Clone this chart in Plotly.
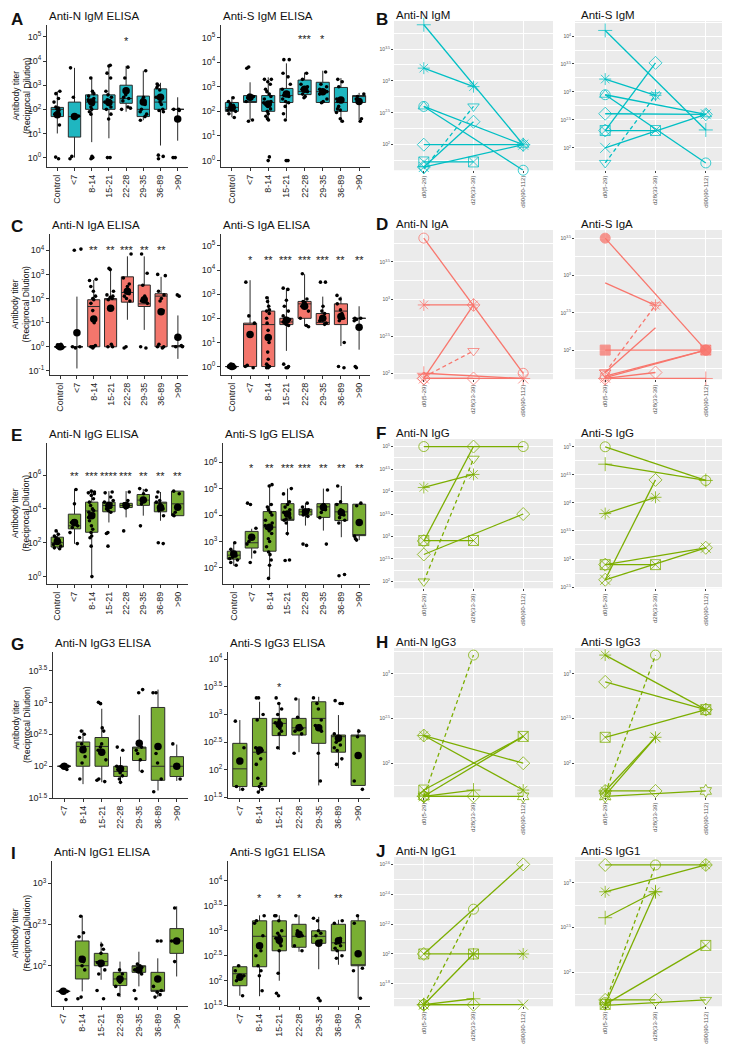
import plotly.graph_objects as go

W, H = 730, 1044
FONT = "Liberation Sans, Arial, sans-serif"

CATS8 = ["Control", "<7", "8-14", "15-21", "22-28", "29-35", "36-89", ">90"]
CATS7 = CATS8[1:]
TIMES = ["d0(5-29)", "d28(33-39)", "d90(90-112)"]

# ---------------- box-plot panels: log10 titers ----------------
# stats rows per category: (lower whisker, q1, median, q3, upper whisker, mean)
AN_IGM_STATS = [(1.0, 1.7, 2.0, 2.08, 2.75, 1.78), (0.0, 0.85, 1.7, 2.3, 3.72, 1.7),
                (0.64, 2.0, 2.3, 2.6, 3.35, 2.3), (0.8, 2.0, 2.3, 2.6, 3.83, 2.28),
                (1.9, 2.25, 2.45, 3.0, 3.8, 2.77), (1.55, 1.7, 2.0, 2.55, 3.6, 2.3),
                (0.5, 2.0, 2.3, 2.85, 3.1, 2.5), (0.7, 2.0, 2.0, 2.0, 2.5, 1.6)]
AN_IGM_PTS = [[2.75, 2.65, 2.45, 2.3, 2.1, 2.05, 2.0, 1.95, 1.85, 1.8, 1.35, 0.02, -0.05],
              [3.72, 2.5, 1.72, 0.05, -0.05],
              [3.3, 2.75, 2.65, 2.55, 2.45, 2.4, 2.35, 2.3, 2.2, 2.1, 2.0, 1.9, 1.8, 0.05, 0.0, -0.05, -0.02],
              [3.83, 3.8, 3.5, 3.3, 2.75, 2.6, 2.5, 2.4, 2.3, 2.3, 2.2, 2.1, 2.0, 1.8, 1.6, 0.0, 0.0],
              [3.75, 3.3, 2.75, 2.6, 2.5, 2.45, 2.35, 2.1, 2.05, 2.0],
              [3.6, 2.5, 2.4, 2.2, 2.0, 1.9, 1.8, 1.7, 1.55],
              [3.05, 3.0, 2.9, 2.8, 2.5, 2.3, 2.2, 2.0, 1.95, 1.9, 0.1, 0.05, -0.05],
              [2.0, 2.0, 1.95, 0.0, 0.0]]
AN_IGM_STARS = ["", "", "", "", "*", "", "", ""]

AS_IGM_STATS = [(1.76, 2.0, 2.16, 2.36, 2.6, 2.16), (1.65, 2.36, 2.36, 2.64, 3.18, 2.57),
                (1.65, 2.0, 2.36, 2.64, 3.38, 2.3), (1.7, 2.36, 2.64, 2.93, 3.95, 2.7),
                (2.57, 2.68, 2.81, 3.27, 3.58, 2.9), (2.3, 2.36, 2.8, 3.18, 3.65, 2.8),
                (1.55, 2.0, 2.36, 2.97, 3.35, 2.46), (1.65, 2.36, 2.64, 2.64, 2.75, 2.4)]
AS_IGM_PTS = [[2.55, 2.4, 2.3, 2.25, 2.2, 2.15, 2.1, 2.05, 2.0, 1.9, 1.75],
              [3.8, 3.75, 2.65, 2.6, 2.55, 2.4, 1.65, 1.6],
              [3.3, 3.3, 3.2, 3.1, 2.9, 2.8, 2.7, 2.6, 2.5, 2.4, 2.35, 2.3, 2.2, 2.1, 2.0, 1.9, 1.8, 1.7, 1.65, 0.15, 0.0],
              [4.1, 4.1, 3.55, 3.4, 3.1, 2.9, 2.75, 2.7, 2.65, 2.6, 2.5, 2.4, 2.35, 2.2, 1.9, 1.65, 0.0, 0.0],
              [3.55, 3.3, 3.1, 3.0, 2.95, 2.9, 2.8, 2.7, 2.6, 2.55],
              [3.6, 3.1, 3.0, 2.9, 2.8, 2.7, 2.5, 2.4, 2.35],
              [3.3, 3.2, 3.0, 2.5, 2.4, 2.2, 2.1, 2.05, 1.95, 1.7, 1.6],
              [2.7, 2.6, 2.5, 2.4, 1.7, 1.6]]
AS_IGM_STARS = ["", "", "", "", "***", "*", "", ""]

AN_IGA_STATS = [(0.0, 0.0, 0.0, 0.0, 0.0, 0.0), (-0.9, 0.0, 0.0, 0.0, 2.08, 0.58),
                (0.0, 0.0, 1.67, 1.95, 2.77, 1.15), (0.0, 0.0, 1.95, 2.0, 3.2, 1.6),
                (1.12, 1.85, 2.25, 2.9, 3.75, 2.3), (0.7, 1.67, 1.78, 2.56, 3.75, 1.95),
                (0.0, 0.0, 2.1, 2.2, 2.9, 1.45), (-0.5, 0.0, 0.0, 0.05, 1.3, 0.4)]
AN_IGA_PTS = [[0.1, 0.08, 0.05, 0.03, 0.0, 0.0, -0.03, -0.05, 0.05, 0.0, -0.02],
              [4.05, 4.0, 0.0, 0.0, -0.05],
              [2.8, 2.75, 2.5, 2.3, 2.1, 2.0, 1.95, 1.8, 1.5, 1.0, 0.05, 0.0, 0.0, -0.05, 0.0],
              [3.25, 3.2, 2.3, 2.15, 2.1, 2.05, 2.0, 1.95, 1.6, 0.1, 0.0, 0.0],
              [3.85, 2.85, 2.6, 2.5, 2.3, 2.2, 2.1, 2.0, 1.9, 0.0, -0.05],
              [3.85, 3.05, 2.55, 2.1, 2.0, 1.9, 1.8, 0.0, -0.05],
              [3.0, 2.95, 2.3, 2.15, 2.0, 1.9, 1.5, 0.1, 0.0, -0.05, 0.0],
              [2.15, 2.1, 0.05, 0.0, 0.0]]
AN_IGA_STARS = ["", "", "**", "**", "***", "**", "**", ""]

AS_IGA_STATS = [(0.0, 0.0, 0.0, 0.0, 0.0, 0.0), (0.0, 0.0, 1.74, 1.8, 3.58, 1.33),
                (0.0, 0.0, 1.74, 2.3, 2.9, 1.2), (0.65, 1.74, 1.85, 2.0, 3.25, 1.92),
                (1.67, 2.0, 2.6, 2.7, 3.83, 2.5), (1.74, 1.74, 1.83, 2.2, 2.9, 2.0),
                (0.85, 1.74, 2.3, 2.6, 2.9, 2.08), (0.7, 2.0, 2.0, 2.0, 2.5, 1.63)]
AS_IGA_PTS = [[0.1, 0.08, 0.05, 0.03, 0.0, 0.0, 0.0, -0.02, -0.03, -0.05, 0.05, 0.0],
              [3.5, 2.1, 1.8, 0.05, 0.0, -0.05],
              [2.85, 2.7, 2.5, 2.35, 2.3, 2.2, 2.0, 1.8, 1.5, 1.0, 0.6, 0.3, 0.1, 0.05, 0.0, 0.0, -0.05, -0.05],
              [3.25, 3.2, 2.75, 2.5, 2.3, 2.1, 2.0, 1.95, 1.9, 1.85, 1.8, 1.75, 1.7, 0.1, 0.0, -0.05, -0.05],
              [3.85, 2.8, 2.7, 2.65, 2.6, 2.5, 2.3, 2.0, 1.7, 1.65],
              [3.5, 3.5, 2.5, 2.3, 2.2, 2.0, 1.9, 1.8, 1.75],
              [2.95, 2.8, 2.6, 2.35, 2.2, 2.0, 1.9, 1.0, 0.0, -0.05],
              [2.0, 2.0, 1.95, 1.9, 0.0, -0.05]]
AS_IGA_STARS = ["", "*", "**", "***", "***", "***", "**", "**"]

AN_IGG_STATS = [(1.65, 1.75, 2.0, 2.33, 2.7, 2.08), (1.94, 2.82, 3.0, 3.69, 5.18, 3.2),
                (-0.05, 2.62, 3.88, 4.4, 5.05, 3.6), (3.2, 3.83, 4.2, 4.4, 5.05, 4.2),
                (3.5, 4.08, 4.2, 4.33, 5.05, 4.2), (3.6, 4.21, 4.52, 4.85, 5.18, 4.52),
                (3.3, 3.83, 4.37, 4.4, 5.0, 4.08), (3.6, 3.6, 4.3, 5.05, 5.05, 4.1)]
AN_IGG_PTS = [[2.7, 2.5, 2.4, 2.3, 2.2, 2.1, 2.05, 2.0, 1.9, 1.8, 1.7, 1.65],
              [5.15, 4.3, 3.3, 3.2, 3.1, 3.0, 2.9, 2.6, 1.95],
              [5.05, 5.0, 4.95, 4.9, 4.8, 4.6, 4.4, 4.2, 4.0, 3.9, 3.8, 3.7, 3.5, 3.3, 3.0, 2.8, 2.6, 2.4, 2.3, 1.8, 0.0],
              [5.0, 4.95, 4.7, 4.5, 4.4, 4.3, 4.2, 4.15, 4.1, 4.0, 3.9, 3.8, 2.6, 2.55, 1.8],
              [5.0, 4.5, 4.3, 4.2, 4.15, 4.1, 4.05, 2.7],
              [5.2, 5.1, 4.9, 4.6, 4.5, 4.3, 3.0],
              [5.0, 4.7, 4.5, 4.4, 4.3, 4.2, 4.0, 3.9, 3.6, 2.0, 1.95],
              [5.05, 4.9, 3.8, 3.65, 3.6]]
AN_IGG_STARS = ["", "**", "***", "****", "***", "**", "**", "**"]

AS_IGG_STATS = [(2.08, 2.33, 2.48, 2.63, 2.95, 2.52), (2.35, 2.75, 2.95, 3.38, 3.48, 3.16),
                (1.63, 2.63, 3.54, 4.13, 5.16, 3.54), (3.22, 3.8, 3.83, 4.43, 5.0, 4.04),
                (3.6, 4.0, 4.12, 4.22, 4.45, 4.12), (3.41, 3.91, 4.31, 4.43, 5.0, 4.29),
                (3.16, 3.79, 4.12, 4.43, 5.1, 4.1), (3.05, 3.22, 3.22, 4.41, 4.45, 3.72)]
AS_IGG_PTS = [[2.95, 2.7, 2.6, 2.55, 2.5, 2.45, 2.4, 2.35, 2.3, 2.2, 2.1],
              [4.45, 4.4, 3.5, 3.0, 2.9, 2.6, 2.2],
              [5.15, 5.1, 4.4, 4.3, 4.2, 4.1, 4.0, 3.8, 3.7, 3.6, 3.5, 3.4, 3.3, 3.1, 3.0, 2.8, 2.6, 2.5, 2.3, 2.1, 1.6],
              [5.0, 4.8, 4.5, 4.4, 4.3, 4.2, 4.1, 4.0, 3.9, 3.85, 3.8, 3.7, 3.3, 2.3, 2.28],
              [4.45, 4.3, 4.2, 4.15, 4.1, 4.05, 4.0, 3.95, 2.9, 2.85],
              [4.95, 4.4, 4.3, 4.2, 4.1, 3.9, 2.9],
              [5.1, 4.5, 4.4, 4.2, 4.1, 4.0, 3.9, 3.8, 3.7, 1.75, 1.7],
              [4.45, 4.35, 3.2, 3.1, 3.05]]
AS_IGG_STARS = ["", "*", "**", "***", "***", "**", "**", "**"]

AN_IGG3_STATS = [(2.0, 2.0, 2.0, 2.0, 2.0, 2.0), (1.72, 2.0, 2.31, 2.38, 2.57, 2.26),
                 (1.75, 2.0, 2.31, 2.45, 2.9, 2.22), (1.72, 1.84, 1.92, 2.0, 2.15, 1.96),
                 (1.92, 2.09, 2.3, 2.3, 2.8, 2.36), (1.62, 1.78, 2.0, 2.92, 3.2, 2.31),
                 (1.77, 1.84, 2.0, 2.15, 2.34, 2.0)]
AN_IGG3_PTS = [[2.0, 2.0, 1.95],
               [2.55, 2.5, 2.45, 2.35, 2.3, 2.25, 2.15, 2.05, 1.8],
               [3.0, 2.98, 2.6, 2.55, 2.35, 2.3, 2.25, 2.2, 2.1, 1.8, 1.78, 1.76],
               [2.3, 2.25, 2.0, 1.95, 1.9, 1.85, 1.8, 1.75],
               [3.2, 3.15, 2.3, 2.25, 2.2, 2.1, 1.92],
               [3.15, 3.15, 2.2, 2.05, 1.8, 1.6],
               [2.35, 2.0, 1.8]]
AN_IGG3_STARS = ["", "", "", "", "", "", ""]

AS_IGG3_STATS = [(1.62, 1.7, 2.02, 2.48, 2.9, 2.16), (1.61, 1.7, 2.32, 2.93, 3.23, 2.36),
                 (2.36, 2.62, 2.84, 2.93, 3.2, 2.82), (2.32, 2.63, 2.76, 2.93, 3.29, 2.76),
                 (1.72, 2.48, 2.93, 3.23, 3.32, 2.76), (2.03, 2.32, 2.6, 2.63, 2.99, 2.57),
                 (1.72, 1.72, 2.63, 2.63, 2.74, 2.26)]
AS_IGG3_PTS = [[2.88, 2.4, 1.7, 1.65],
               [3.3, 3.3, 3.0, 2.9, 2.4, 2.35, 2.3, 2.2, 2.1, 1.85, 1.75, 1.7, 1.65, 1.6],
               [3.3, 3.2, 3.1, 3.0, 2.9, 2.85, 2.8, 2.75, 2.7, 2.65, 2.4],
               [3.28, 2.95, 2.8, 2.75, 2.7, 2.65, 2.3],
               [3.3, 3.2, 3.1, 2.9, 2.8, 2.7, 2.3, 1.8],
               [3.25, 3.2, 3.2, 2.65, 2.6, 2.55, 2.5, 2.45, 2.4, 2.35, 2.2, 2.1],
               [2.7, 2.6, 1.8, 1.65]]
AS_IGG3_STARS = ["", "", "*", "", "", "", ""]

AN_IGG1_STATS = [(1.69, 1.69, 1.69, 1.69, 1.69, 1.69), (1.69, 1.84, 2.0, 2.3, 2.61, 2.08),
                 (1.83, 2.0, 2.05, 2.15, 2.29, 2.03), (1.62, 1.76, 1.84, 1.92, 2.05, 1.84),
                 (1.75, 1.92, 2.0, 2.0, 2.17, 1.95), (1.62, 1.69, 1.69, 1.92, 2.09, 1.84),
                 (1.87, 2.15, 2.3, 2.45, 2.72, 2.3)]
AN_IGG1_PTS = [[1.69, 1.69, 1.59],
               [2.6, 2.4, 2.35, 2.1, 2.05, 2.0, 1.95, 1.62, 1.6],
               [2.25, 2.2, 2.15, 2.05, 2.04, 2.0, 1.95, 1.9, 1.7, 1.6],
               [1.95, 1.9, 1.85, 1.8, 1.75, 1.65],
               [2.02, 2.0, 1.98, 1.95, 1.9, 1.7, 1.6],
               [2.3, 2.3, 1.75, 1.7, 1.68, 1.65, 1.62],
               [2.7, 2.3, 2.05]]
AN_IGG1_STARS = ["", "", "", "", "", "", ""]

AS_IGG1_STATS = [(1.7, 1.9, 2.14, 2.28, 2.32, 2.07), (1.69, 2.28, 2.89, 3.2, 3.31, 2.7),
                 (2.0, 2.6, 2.89, 3.2, 3.31, 2.81), (2.58, 2.67, 2.89, 3.13, 3.31, 2.93),
                 (2.23, 2.75, 2.89, 3.0, 3.28, 2.75), (2.32, 2.6, 2.76, 3.13, 3.22, 2.8),
                 (1.65, 2.3, 2.3, 3.2, 3.31, 2.54)]
AS_IGG1_PTS = [[2.3, 2.2, 2.1, 2.0, 1.7],
               [3.3, 3.2, 3.15, 2.9, 2.7, 2.6, 2.5, 2.3, 2.2, 2.1, 1.8],
               [3.3, 3.3, 3.2, 3.0, 2.95, 2.9, 2.85, 2.8, 2.75, 2.7, 2.6, 2.15, 1.75, 1.7],
               [3.3, 3.0, 2.95, 2.9, 2.7, 2.6],
               [3.25, 3.2, 3.0, 2.95, 2.9, 2.8, 1.65, 1.6],
               [3.2, 3.15, 2.85, 2.8, 2.75, 2.7, 2.65, 2.6, 2.5, 2.45],
               [3.3, 3.15, 2.25, 2.2, 1.65]]
AS_IGG1_STARS = ["", "*", "*", "*", "", "**", ""]

# ---------------- paired line panels: log10 titers at d0, d28, d90 ----------------
LN_IGM = [[3.88, None, 2.0], [3.2, 2.91, None], [2.6, None, 2.0], [2.6, None, 1.6],
          [2.0, None, 2.0], [1.73, 1.73, None], [1.62, 2.6, None], [1.65, 2.36, None], [1.65, None, 2.0]]
LS_IGM = [[4.1, None, 2.32], [3.23, 2.94, None], [2.95, None, 2.6], [2.95, None, 1.73],
          [2.61, None, 2.6], [2.31, 2.31, None], [1.73, 2.94, None], [2.31, 3.52, None], [2.0, None, 2.6]]
LN_IGA = [[3.82, None, 2.0], [2.92, 2.92, None], [1.93, 2.92, None], [1.95, 2.3, None],
          [2.0, None, 1.93], [1.93, None, 1.93], [1.93, 1.93, None]]
LS_IGA = [[3.5, None, 2.0], [2.9, 2.6, None], [2.0, None, 2.0], [1.7, 2.3, None],
          [1.7, 2.6, None], [1.65, None, 2.0], [1.63, None, 2.0], [1.62, 1.7, None], [1.62, None, 1.62]]
LN_IGG = [[5.0, None, 5.0], [2.9, 5.0, None], [4.09, 4.38, None], [2.0, 4.73, None],
          [2.91, 2.91, None], [2.6, None, 3.5]]
LS_IGG = [[5.0, None, 4.4], [4.69, None, 4.4], [3.81, 4.1, None], [2.63, 4.41, None],
          [2.9, 2.9, None], [2.9, None, 3.2], [2.63, None, 3.2]]
LN_IGG3 = [[1.63, 3.21, None], [2.31, None, 2.0], [2.31, None, 1.7], [1.7, None, 2.3],
           [1.63, None, 2.3], [1.63, 1.7, None], [1.63, None, 1.63], [1.63, 1.63, None]]
LS_IGG3 = [[3.21, None, 2.6], [2.91, None, 2.6], [2.29, None, 2.6], [1.66, 3.21, None],
           [1.69, 2.29, None], [1.64, 2.29, None], [1.69, 1.69, None], [1.63, None, 1.69]]
LN_IGG1 = [[2.0, None, 2.6], [2.0, 2.0, None], [1.66, 2.0, 2.0], [1.66, 2.3, None],
           [1.66, 1.7, None], [1.66, None, 1.66], [1.66, 1.66, None]]
LS_IGG1 = [[3.2, None, 3.2], [2.9, None, 3.2], [2.61, 2.9, None], [1.66, 3.2, None],
           [1.64, 2.9, None], [1.64, None, 2.3], [1.69, 1.69, None], [1.63, None, 1.69]]

# ---------------- styles / layout ----------------
TEAL, SALMON, GREEN = "#1FB6C0", "#F3766C", "#79AE33"
LTEAL, LSALMON, LGREEN = "#00BFC4", "#F8766D", "#7CAE00"

SYM_IGM = ["cross-thin-open", "asterisk-open", "triangle-up-open", "circle-open", "diamond-open",
           "square-x-open", "triangle-down-open", "diamond-open", "x-thin-open"]
DASH_IGM = [6]
SYM_SIGA = ["circle", "asterisk-open", "square", "triangle-down-open", "triangle-down-open",
            "circle-open", "x-thin-open", "diamond-open", "cross-thin-open"]
HIDE_SIGA = {(1, 0), (3, 1)}
SYM_NIGA = ["circle-open", "asterisk-open", "diamond-open", "triangle-down-open",
            "cross-thin-open", "x-thin-open", "diamond-open"]
SYM_NIGG = ["circle-open", "diamond-open", "asterisk-open", "triangle-down-open", "square-x-open", "diamond-open"]
SYM_SIGG = ["circle-open", "cross-thin-open", "asterisk-open", "diamond-open", "square-x-open",
            "diamond-open", "x-thin-open"]
SYM_NIGG3 = ["circle-open", "diamond-open", "asterisk-open", "square-x-open", "x-thin-open",
             "cross-thin-open", "hexagram-open", "diamond-open"]
SYM_SIGG3 = ["asterisk-open", "diamond-open", "square-x-open", "circle-open", "asterisk-open",
             "x-thin-open", "diamond-open", "hexagram-open"]
SYM_NIGG1 = ["diamond-open", "square-x-open", "asterisk-open", "circle-open", "cross-thin-open",
             "x-thin-open", "diamond-open"]
SYM_SIGG1 = ["diamond-open", "asterisk-open", "cross-thin-open", "circle-open", "asterisk-open",
             "square-x-open", "diamond-open", "triangle-down-open"]

fig = go.Figure()
annotations = []
shapes = []
layout_axes = {}


def axnames(n):
    return ("x" if n == 1 else f"x{n}"), ("y" if n == 1 else f"y{n}"), \
           ("xaxis" if n == 1 else f"xaxis{n}"), ("yaxis" if n == 1 else f"yaxis{n}")


def dom(x0, x1, y0, y1):
    return [x0 / W, x1 / W], [1 - y1 / H, 1 - y0 / H]


def tlabel(v):
    s = f"{v:g}"
    return f"10<sup>{s}</sup>"


def box_panel(n, stats, pts, stars, cats, color, box, yr, ytv, stary):
    xa, ya, xk, yk = axnames(n)
    lo, q1, med, q3, hi, mean = zip(*stats)
    fig.add_trace(go.Box(x=cats, lowerfence=lo, q1=q1, median=med, q3=q3, upperfence=hi,
                         fillcolor=color, line=dict(color="#2b2b2b", width=1), whiskerwidth=0,
                         width=0.72, boxpoints=False, xaxis=xa, yaxis=ya, showlegend=False,
                         hoverinfo="skip"))
    xs = [c for c, p in zip(cats, pts) for _ in p]
    ys = [v for p in pts for v in p]
    fig.add_trace(go.Box(x=xs, y=ys, boxpoints="all", jitter=0.75, pointpos=0,
                         fillcolor="rgba(0,0,0,0)", line=dict(color="rgba(0,0,0,0)", width=0),
                         whiskerwidth=0, width=0.72, marker=dict(color="black", size=3.6),
                         xaxis=xa, yaxis=ya, showlegend=False, hoverinfo="skip"))
    fig.add_trace(go.Scatter(x=list(cats), y=list(mean), mode="markers",
                             marker=dict(color="black", size=7.5), xaxis=xa, yaxis=ya,
                             showlegend=False, hoverinfo="skip", cliponaxis=False))
    for c, s in zip(cats, stars):
        if s:
            annotations.append(dict(x=c, y=stary, xref=xa, yref=ya, text=s, showarrow=False,
                                    font=dict(size=11, color="#222", family=FONT)))
    dx, dy = dom(*box)
    layout_axes[xk] = dict(domain=dx, anchor=ya, type="category", categoryorder="array",
                           categoryarray=cats, range=[-0.6, len(cats) - 0.4], showline=True,
                           linecolor="#333", linewidth=1, ticks="outside", ticklen=3,
                           tickcolor="#333", tickangle=-90, showgrid=False, zeroline=False,
                           tickfont=dict(size=9, color="#222", family=FONT))
    layout_axes[yk] = dict(domain=dy, anchor=xa, range=yr, tickvals=ytv,
                           ticktext=[tlabel(v) for v in ytv], showline=True, linecolor="#333",
                           linewidth=1, ticks="outside", ticklen=3, tickcolor="#333",
                           showgrid=False, zeroline=False,
                           tickfont=dict(size=9, color="#222", family=FONT))


def line_panel(n, series, symbols, color, box, yr, ytv, dashed=(), hidden=frozenset()):
    xa, ya, xk, yk = axnames(n)
    shapes.append(dict(type="rect", xref=f"{xa} domain", yref=f"{ya} domain", x0=0, x1=1,
                       y0=0, y1=1, fillcolor="#EBEBEB", line=dict(width=0), layer="below"))
    for i, vals in enumerate(series):
        sizes = [0 if (i, j) in hidden else 10 for j in range(3)]
        fig.add_trace(go.Scatter(x=TIMES, y=vals, mode="lines+markers", connectgaps=True,
                                 line=dict(color=color, width=1.3,
                                           dash="4px,3px" if i in dashed else "solid"),
                                 marker=dict(symbol=symbols[i], size=sizes, color=color,
                                             opacity=0.75, line=dict(width=1, color=color)),
                                 xaxis=xa, yaxis=ya, showlegend=False, hoverinfo="skip",
                                 cliponaxis=False))
    dx, dy = dom(*box)
    step = ytv[1] - ytv[0]
    minor = [ytv[0] - step / 2] + [v + step / 2 for v in ytv]
    layout_axes[xk] = dict(domain=dx, anchor=ya, type="category", categoryorder="array",
                           categoryarray=TIMES, range=[-0.6, 2.6], showgrid=True,
                           gridcolor="white", gridwidth=1.1, showline=False, zeroline=False,
                           ticks="outside", ticklen=2, tickcolor="#444", tickangle=-90,
                           tickfont=dict(size=6, color="#555", family=FONT))
    layout_axes[yk] = dict(domain=dy, anchor=xa, range=yr, tickvals=ytv,
                           ticktext=[tlabel(v) for v in ytv], showgrid=True, gridcolor="white",
                           gridwidth=1.1, zeroline=False, showline=False, ticks="outside",
                           ticklen=2, tickcolor="#444",
                           minor=dict(tickvals=minor, showgrid=True, gridcolor="white",
                                      gridwidth=0.5, ticks=""),
                           tickfont=dict(size=5, color="#555", family=FONT))


ROWS = [0, 210, 420, 630, 840]
LEFT_BOX = [(39, 180, 17, 160), (42, 180, 227, 369), (39, 180, 437, 579), (45, 180, 647, 794), (44, 180, 857, 1003)]
RIGHT_BOX = [(213, 362, 17, 160), (213, 362, 227, 369), (215, 362, 437, 579), (220, 362, 647, 794), (220, 362, 857, 1003)]
LINE_L = (386, 545)
LINE_R = (567, 728)
LINE_Y = [(13, 163), (223, 373), (433, 583), (643, 793), (853, 1003)]

# Row A/B
box_panel(1, AN_IGM_STATS, AN_IGM_PTS, AN_IGM_STARS, CATS8, TEAL, LEFT_BOX[0], [-0.4, 5.5], [0, 1, 2, 3, 4, 5], 4.85)
box_panel(2, AS_IGM_STATS, AS_IGM_PTS, AS_IGM_STARS, CATS8, TEAL, RIGHT_BOX[0], [-0.27, 5.51], [0, 1, 2, 3, 4, 5], 4.95)
line_panel(3, LN_IGM, SYM_IGM, LTEAL, (*LINE_L, *LINE_Y[0]), [1.6, 3.94], [2, 2.5, 3, 3.5], dashed=DASH_IGM)
line_panel(4, LS_IGM, SYM_IGM, LTEAL, (*LINE_R, *LINE_Y[0]), [1.6, 4.27], [2, 2.5, 3, 3.5, 4], dashed=DASH_IGM)
# Row C/D
box_panel(5, AN_IGA_STATS, AN_IGA_PTS, AN_IGA_STARS, CATS8, SALMON, LEFT_BOX[1], [-1.18, 4.68], [-1, 0, 1, 2, 3, 4], 4.0)
box_panel(6, AS_IGA_STATS, AS_IGA_PTS, AS_IGA_STARS, CATS8, SALMON, RIGHT_BOX[1], [-0.36, 5.5], [0, 1, 2, 3, 4, 5], 4.4)
line_panel(7, LN_IGA, SYM_NIGA, LSALMON, (*LINE_L, *LINE_Y[1]), [1.92, 3.93], [2, 2.5, 3, 3.5], dashed=[3])
line_panel(8, LS_IGA, SYM_SIGA, LSALMON, (*LINE_R, *LINE_Y[1]), [1.61, 3.61], [2, 2.5, 3, 3.5], dashed=[4], hidden=HIDE_SIGA)
# Row E/F
box_panel(9, AN_IGG_STATS, AN_IGG_PTS, AN_IGG_STARS, CATS8, GREEN, LEFT_BOX[2], [-0.45, 7.9], [0, 2, 4, 6], 5.95)
box_panel(10, AS_IGG_STATS, AS_IGG_PTS, AS_IGG_STARS, CATS8, GREEN, RIGHT_BOX[2], [1.38, 6.73], [2, 3, 4, 5, 6], 5.79)
line_panel(11, LN_IGG, SYM_NIGG, LGREEN, (*LINE_L, *LINE_Y[2]), [1.85, 5.17], [2, 2.5, 3, 3.5, 4, 4.5, 5], dashed=[3])
line_panel(12, LS_IGG, SYM_SIGG, LGREEN, (*LINE_R, *LINE_Y[2]), [2.48, 5.14], [2.5, 3, 3.5, 4, 4.5, 5])
# Row G/H
box_panel(13, AN_IGG3_STATS, AN_IGG3_PTS, AN_IGG3_STARS, CATS7, GREEN, LEFT_BOX[3], [1.5, 3.79], [1.5, 2, 2.5, 3, 3.5], 3.5)
box_panel(14, AS_IGG3_STATS, AS_IGG3_PTS, AS_IGG3_STARS, CATS7, GREEN, RIGHT_BOX[3], [1.49, 4.13], [1.5, 2, 2.5, 3, 3.5, 4], 3.49)
line_panel(15, LN_IGG3, SYM_NIGG3, LGREEN, (*LINE_L, *LINE_Y[3]), [1.62, 3.29], [2, 2.5, 3], dashed=[0])
line_panel(16, LS_IGG3, SYM_SIGG3, LGREEN, (*LINE_R, *LINE_Y[3]), [1.62, 3.29], [2, 2.5, 3], dashed=[3])
# Row I/J
box_panel(17, AN_IGG1_STATS, AN_IGG1_PTS, AN_IGG1_STARS, CATS7, GREEN, LEFT_BOX[4], [1.51, 3.27], [2, 2.5, 3], 3.0)
box_panel(18, AS_IGG1_STATS, AS_IGG1_PTS, AS_IGG1_STARS, CATS7, GREEN, RIGHT_BOX[4], [1.49, 4.4], [1.5, 2, 2.5, 3, 3.5, 4], 3.66)
line_panel(19, LN_IGG1, SYM_NIGG1, LGREEN, (*LINE_L, *LINE_Y[4]), [1.65, 2.65], [1.8, 2.0, 2.2, 2.4, 2.6], dashed=[3])
line_panel(20, LS_IGG1, SYM_SIGG1, LGREEN, (*LINE_R, *LINE_Y[4]), [1.62, 3.29], [2, 2.5, 3], dashed=[3])

# titles, panel letters, y titles
BOX_TITLES = [("Anti-N IgM ELISA", "Anti-S IgM ELISA"), ("Anti-N IgA ELISA", "Anti-S IgA ELISA"),
              ("Anti-N IgG ELISA", "Anti-S IgG ELISA"), ("Anti-N IgG3 ELISA", "Anti-S IgG3 ELISA"),
              ("Anti-N IgG1 ELISA", "Anti-S IgG1 ELISA")]
LINE_TITLES = [("Anti-N IgM", "Anti-S IgM"), ("Anti-N IgA", "Anti-S IgA"), ("Anti-N IgG", "Anti-S IgG"),
               ("Anti-N IgG3", "Anti-S IgG3"), ("Anti-N IgG1", "Anti-S IgG1")]
LETTERS = [("A", "B"), ("C", "D"), ("E", "F"), ("G", "H"), ("I", "J")]


def paper_text(x, y, text, size, bold=False, angle=0, xanchor="left", align="left"):
    annotations.append(dict(x=x / W, y=1 - y / H, xref="paper", yref="paper", text=text,
                            showarrow=False, xanchor=xanchor, yanchor="middle", textangle=angle,
                            align=align,
                            font=dict(size=size, color="#111", family=FONT,
                                      weight="bold" if bold else "normal")))


for r, top in enumerate(ROWS):
    paper_text(LEFT_BOX[r][0], top + 8, BOX_TITLES[r][0], 11.5)
    paper_text(RIGHT_BOX[r][0], top + 8, BOX_TITLES[r][1], 11.5)
    paper_text(LINE_L[0], top + 7, LINE_TITLES[r][0], 11.5)
    paper_text(LINE_R[0] + 4, top + 7, LINE_TITLES[r][1], 11.5)
    paper_text(1, max(top + 10, 12), LETTERS[r][0], 17, bold=True)
    paper_text(366, max(top + 8, 12), LETTERS[r][1], 17, bold=True)
    ymid = (LEFT_BOX[r][2] + LEFT_BOX[r][3]) / 2
    paper_text(13, ymid, "Antibody titer<br>(Reciprocal Dilution)", 8.5, angle=-90,
               xanchor="center", align="center")

fig.update_layout(width=W, height=H, margin=dict(l=0, r=0, t=0, b=0),
                  paper_bgcolor="white", plot_bgcolor="rgba(0,0,0,0)", boxmode="overlay",
                  showlegend=False, annotations=annotations, shapes=shapes,
                  font=dict(family=FONT), **layout_axes)

fig.write_html("out.html")
